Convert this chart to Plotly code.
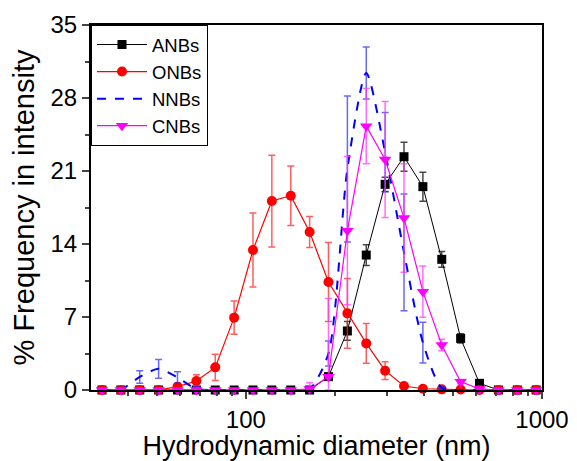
import numpy as np
import plotly.graph_objects as go

# Size classes (nm)
sizes = [32.67, 37.84, 43.82, 50.75, 58.77, 68.06, 78.82, 91.28, 105.7, 122.4, 141.8, 164.2,
         190.1, 220.2, 255.0, 295.3, 342.0, 396.1, 458.7, 531.2, 615.1, 712.4, 825.0, 955.4]

anbs = [0, 0, 0, 0, 0, 0, 0, 0, 0, 0, 0, 0,
        1.28, 5.66, 12.94, 19.72, 22.37, 19.5, 12.53, 4.95, 0.64, 0, 0, 0]
anbs_err = [0, 0, 0, 0, 0, 0, 0, 0, 0, 0, 0, 0,
            0.3, 0.9, 1.0, 0.69, 1.39, 1.39, 0.75, 0.45, 0.2, 0, 0, 0]

onbs = [0, 0, 0, 0, 0.32, 0.86, 2.17, 6.94, 13.42, 18.12, 18.63, 15.15,
        10.35, 7.35, 4.47, 1.85, 0.38, 0.12, 0.06, 0.05, 0, 0, 0, 0]
onbs_err = [0, 0, 0, 0, 0.1, 0.6, 1.26, 1.6, 3.55, 4.4, 2.86, 1.49,
            3.79, 3.35, 1.9, 0.85, 0.1, 0, 0, 0, 0, 0, 0, 0]

nnbs = [0, 0.05, 1.25, 2.03, 1.2, 0.1, 0, 0, 0, 0, 0, 0.1,
        3.5, 21.2, 30.4, 22.8, 13.2, 4.55, 0.2, 0, 0, 0, 0, 0]
nnbs_err = [0, 0.2, 0.6, 0.9, 0.56, 0.2, 0, 0, 0, 0, 0, 0,
            1.2, 7.0, 2.5, 3.8, 5.6, 1.95, 0.1, 0, 0, 0, 0, 0]

cnbs = [0, 0, 0, 0, 0, 0, 0, 0, 0, 0, 0, 0.1,
        1.28, 15.28, 25.3, 22.1, 16.5, 9.43, 4.31, 0.8, 0.1, 0, 0, 0]
cnbs_err = [0, 0, 0, 0, 0, 0, 0, 0, 0, 0, 0, 0.6,
            7.5, 7.1, 3.6, 5.56, 5.2, 2.45, 0.55, 0.2, 0, 0, 0, 0]

FONT = "Arial, Liberation Sans, sans-serif"


def err(vals, errs, color):
    v = np.array(vals, dtype=float)
    e = np.array(errs, dtype=float)
    return dict(type="data", array=e.tolist(), arrayminus=np.minimum(e, v).tolist(),
                color=color, thickness=1.5, width=3.5, visible=True)


fig = go.Figure()
fig.add_trace(go.Scatter(
    x=sizes, y=anbs, name="ANBs", mode="lines+markers",
    line=dict(color="black", width=1),
    marker=dict(symbol="square", size=9, color="black"),
    error_y=err(anbs, anbs_err, "rgba(40,40,40,0.85)"), cliponaxis=False))
fig.add_trace(go.Scatter(
    x=sizes, y=onbs, name="ONBs", mode="lines+markers",
    line=dict(color="red", width=1.2),
    marker=dict(symbol="circle", size=10, color="red"),
    error_y=err(onbs, onbs_err, "rgba(255,40,40,0.75)"), cliponaxis=False))
fig.add_trace(go.Scatter(
    x=sizes, y=nnbs, name="NNBs", mode="lines",
    line=dict(color="blue", width=2, dash="dash", shape="spline", smoothing=0.7),
    error_y=err(nnbs, nnbs_err, "rgba(40,40,255,0.7)")))
fig.add_trace(go.Scatter(
    x=sizes, y=cnbs, name="CNBs", mode="lines+markers",
    line=dict(color="magenta", width=1.2),
    marker=dict(symbol="triangle-down", size=11, color="magenta"),
    error_y=err(cnbs, cnbs_err, "rgba(255,60,255,0.75)"), cliponaxis=False))

# the page body adds an 8px offset, so the figure is 8px smaller with margins reduced accordingly
fig.update_layout(
    width=569, height=453,
    margin=dict(l=83, r=35, t=17, b=71, autoexpand=False),
    paper_bgcolor="white", plot_bgcolor="white",
    font=dict(family=FONT, color="black"),
    showlegend=True,
    legend=dict(x=0, y=1, xanchor="left", yanchor="top",
                bordercolor="black", borderwidth=1, bgcolor="white",
                font=dict(size=18.5, family=FONT), itemwidth=50,
                tracegroupgap=0),
)

fig.update_xaxes(
    type="log", range=[np.log10(30), 3], automargin=False,
    tickvals=[100, 1000], ticks="outside", ticklen=7, tickwidth=2,
    tickfont=dict(size=24, family=FONT),
    minor=dict(tickvals=[40, 50, 60, 70, 80, 90, 200, 300, 400, 500, 600, 700, 800, 900],
               ticks="outside", ticklen=4, tickwidth=2, showgrid=False),
    showline=True, linecolor="black", linewidth=2, mirror=True,
    showgrid=False, zeroline=False,
    title=dict(text="Hydrodynamic diameter (nm)", font=dict(size=27, family=FONT), standoff=3),
)
fig.update_yaxes(
    range=[0, 35], dtick=7, tick0=0, ticks="outside", ticklen=7, tickwidth=2, automargin=False,
    tickfont=dict(size=24, family=FONT),
    minor=dict(dtick=3.5, ticks="outside", ticklen=4, tickwidth=2, showgrid=False),
    showline=True, linecolor="black", linewidth=2, mirror=True,
    showgrid=False, zeroline=False,
    title=dict(text="% Frequency in intensity", font=dict(size=29, family=FONT), standoff=8),
)

fig.write_html("out.html")
